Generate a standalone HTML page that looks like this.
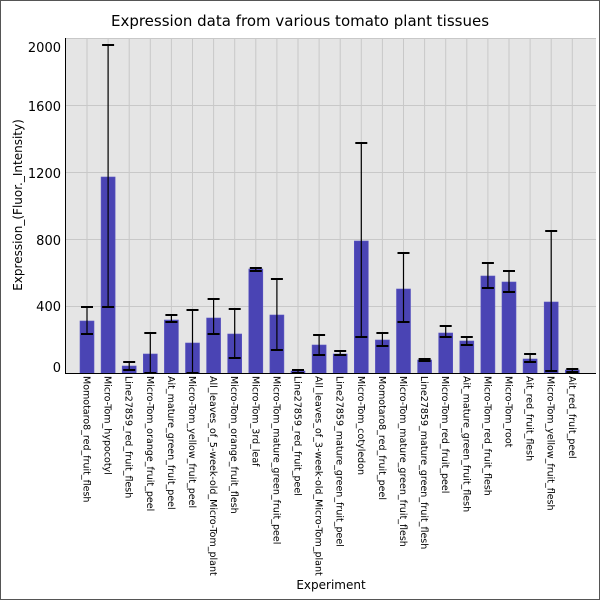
<!DOCTYPE html>
<html><head><style>body{margin:0;background:#fff}svg{display:block}</style></head><body>
<svg width="600" height="600" xmlns="http://www.w3.org/2000/svg" font-family="DejaVu Sans, Liberation Sans, sans-serif">
<rect x="0.5" y="0.5" width="599" height="599" fill="#fff" stroke="#555"/>
<text x="300" y="26" font-size="15" text-anchor="middle" fill="#000">Expression data from various tomato plant tissues</text>
<rect x="66" y="38" width="530" height="335" fill="#e5e5e5"/>
<g stroke="#c8c8c8" stroke-width="1">
<line x1="66" x2="596" y1="105.5" y2="105.5"/><line x1="66" x2="596" y1="172.5" y2="172.5"/><line x1="66" x2="596" y1="239.5" y2="239.5"/><line x1="66" x2="596" y1="306.5" y2="306.5"/><line x1="66" x2="596" y1="38.5" y2="38.5"/>
</g>
<g id="vg" stroke="#c8c8c8" stroke-width="1"></g>
<g id="bars"></g>
<line x1="66" x2="596" y1="373.5" y2="373.5" stroke="#000"/>
<line x1="65.5" x2="65.5" y1="38" y2="374" stroke="#000"/>
<g font-size="13" text-anchor="end" fill="#000">
<text x="61" y="52">2000</text><text x="61" y="111">1600</text><text x="61" y="178">1200</text><text x="61" y="245">800</text><text x="61" y="311">400</text><text x="61" y="372">0</text>
</g>
<text transform="translate(22,205) rotate(-90)" font-size="12" text-anchor="middle">Expression_(Fluor._Intensity)</text>
<text x="331" y="589" font-size="12" text-anchor="middle">Experiment</text>
<g id="labels" font-size="9.5"></g>
<script>
var names=["Momotaro8_red_fruit_flesh","Micro-Tom_hypocotyl","Line27859_red_fruit_flesh","Micro-Tom_orange_fruit_peel","Ait_mature_green_fruit_peel","Micro-Tom_yellow_fruit_peel","All_leaves_of_5-week-old_Micro-Tom_plant","Micro-Tom_orange_fruit_flesh","Micro-Tom_3rd_leaf","Micro-Tom_mature_green_fruit_peel","Line27859_red_fruit_peel","All_leaves_of_3-week-old_Micro-Tom_plant","Line27859_mature_green_fruit_peel","Micro-Tom_cotyledon","Momotaro8_red_fruit_peel","Micro-Tom_mature_green_fruit_flesh","Line27859_mature_green_fruit_flesh","Micro-Tom_red_fruit_peel","Ait_mature_green_fruit_flesh","Micro-Tom_red_fruit_flesh","Micro-Tom_root","Ait_red_fruit_flesh","Micro-Tom_yellow_fruit_flesh","Ait_red_fruit_peel"];
var d=[[321,307,334],[177,45,307],[366,362,370],[354,333,373],[320,315,322],[343,310,373],[318,299,334],[334,309,358],[269,268,271],[315,279,350],[371,370,373],[345,335,355],[354,351,355],[241,143,337],[340,333,346],[289,253,322],[360,359,361],[333,326,337],[341,337,345],[276,263,288],[282,271,292],[359,354,362],[302,231,371],[370,369,372]];
var ns="http://www.w3.org/2000/svg",vg=document.getElementById("vg"),b=document.getElementById("bars"),L=document.getElementById("labels");
function el(p,t,a,txt){var e=document.createElementNS(ns,t);for(var k in a)e.setAttribute(k,a[k]);if(txt)e.textContent=txt;p.appendChild(e);return e;}
for(var i=0;i<24;i++){var cx=87+i*21.1;
el(vg,"line",{x1:cx,x2:cx,y1:38,y2:373});
el(b,"rect",{x:cx-7,y:d[i][0],width:14,height:373-d[i][0],fill:"#4a44b4",stroke:"#5a55c0","stroke-width":0.6});
el(b,"line",{x1:cx,x2:cx,y1:d[i][1],y2:d[i][2],stroke:"#000","stroke-width":1.2});
el(b,"line",{x1:cx-6,x2:cx+6,y1:d[i][1],y2:d[i][1],stroke:"#000","stroke-width":2});
el(b,"line",{x1:cx-6,x2:cx+6,y1:d[i][2],y2:d[i][2],stroke:"#000","stroke-width":2});
el(L,"text",{transform:"translate("+(cx-3.5)+",376) rotate(90)"},names[i]);}
</script>
</svg>
</body></html>
